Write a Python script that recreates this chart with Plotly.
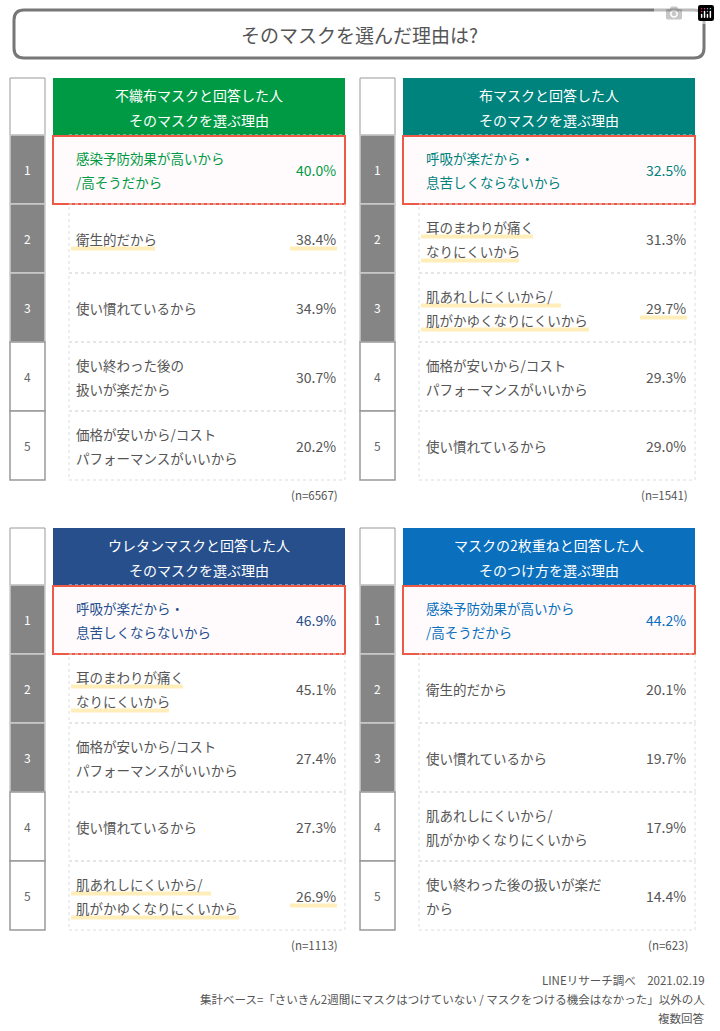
import plotly.graph_objects as go

# ---- data ----
panel_titles = ["不織布マスクと回答した人<br>そのマスクを選ぶ理由", "布マスクと回答した人<br>そのマスクを選ぶ理由",
                "ウレタンマスクと回答した人<br>そのマスクを選ぶ理由", "マスクの2枚重ねと回答した人<br>そのつけ方を選ぶ理由"]
panel_colors = ["#009a44", "#00827d", "#264f8c", "#0a6fbd"]
panel_n = ["(n=6567)", "(n=1541)", "(n=1113)", "(n=623)"]
reasons = [
    ["感染予防効果が高いから<br>/高そうだから", "衛生的だから", "使い慣れているから", "使い終わった後の<br>扱いが楽だから", "価格が安いから/コスト<br>パフォーマンスがいいから"],
    ["呼吸が楽だから・<br>息苦しくならないから", "耳のまわりが痛く<br>なりにくいから", "肌あれしにくいから/<br>肌がかゆくなりにくいから", "価格が安いから/コスト<br>パフォーマンスがいいから", "使い慣れているから"],
    ["呼吸が楽だから・<br>息苦しくならないから", "耳のまわりが痛く<br>なりにくいから", "価格が安いから/コスト<br>パフォーマンスがいいから", "使い慣れているから", "肌あれしにくいから/<br>肌がかゆくなりにくいから"],
    ["感染予防効果が高いから<br>/高そうだから", "衛生的だから", "使い慣れているから", "肌あれしにくいから/<br>肌がかゆくなりにくいから", "使い終わった後の扱いが楽だ<br>から"],
]
percents = [
    [40.0, 38.4, 34.9, 30.7, 20.2],
    [32.5, 31.3, 29.7, 29.3, 29.0],
    [46.9, 45.1, 27.4, 27.3, 26.9],
    [44.2, 20.1, 19.7, 17.9, 14.4],
]
# yellow marker underline: (label, percent) per row
underline = [
    [(0, 0), (1, 1), (0, 0), (0, 0), (0, 0)],
    [(0, 0), (1, 0), (1, 1), (0, 0), (0, 0)],
    [(0, 0), (1, 0), (0, 0), (0, 0), (1, 1)],
    [(0, 0), (0, 0), (0, 0), (0, 0), (0, 0)],
]
title = "そのマスクを選んだ理由は?"
notes = ["LINEリサーチ調べ　2021.02.19",
         "集計ベース=「さいきん2週間にマスクはつけていない / マスクをつける機会はなかった」以外の人",
         "複数回答"]

FONT = "Noto Sans CJK JP"
W, H = 720, 1031
shapes, ann = [], []


def txt(x, y, s, size=13, color="#555", xa="center"):
    ann.append(dict(x=x, y=y, text=s, xref="x", yref="y", showarrow=False, xanchor=xa, yanchor="middle",
                    font=dict(family=FONT, size=size, color=color)))


def multiline(x, yc, s, gap, **kw):
    lines = s.split("<br>")
    for i, ln in enumerate(lines):
        txt(x, yc + (i - (len(lines) - 1) / 2) * gap, ln, **kw)
    return lines


def rect(x0, y0, x1, y1, fill="rgba(0,0,0,0)", line="rgba(0,0,0,0)", lw=1, dash="solid"):
    shapes.append(dict(type="rect", x0=x0, y0=y0, x1=x1, y1=y1, xref="x", yref="y", fillcolor=fill,
                       line=dict(color=line, width=lw, dash=dash)))


def marker(x0, x1, y):
    shapes.append(dict(type="line", xref="x", yref="y", x0=x0, x1=x1, y0=y, y1=y,
                       line=dict(color="rgba(255,225,140,0.6)", width=4)))


# title box
shapes.append(dict(type="path", xref="x", yref="y",
                   path="M 24,10 L 694,10 Q 704,10 704,20 L 704,48 Q 704,58 694,58 L 24,58 Q 14,58 14,48 L 14,20 Q 14,10 24,10 Z",
                   line=dict(color="#777", width=3), fillcolor="white"))
txt(359, 34, title, size=19, color="#555")

row_h = 69
for p in range(4):
    ox = 10 if p % 2 == 0 else 360
    oy = 78 if p < 2 else 528
    cx0, cx1 = ox + 43, ox + 335
    rect(ox, oy, ox + 35, oy + 57, fill="white", line="#999")
    rect(cx0, oy, cx1, oy + 57, fill=panel_colors[p])
    multiline((cx0 + cx1) / 2, oy + 29, panel_titles[p], 25, size=14, color="white")
    for r in range(5):
        y0 = oy + 57 + r * row_h
        y1 = y0 + row_h
        yc = (y0 + y1) / 2
        top3 = r < 3
        rect(ox, y0, ox + 35, y1, fill="#858585" if top3 else "white", line="#ccc" if top3 else "#999", lw=1.5)
        txt(ox + 17.5, yc, str(r + 1), size=12, color="white" if top3 else "#666")
        col = panel_colors[p] if r == 0 else "#555"
        rect(cx0 + 16, y0, cx1, y1, line="#ddd", lw=1, dash="dot")
        if r == 0:
            rect(cx0, y0 + 1, cx1, y1, fill="#fffbfc", line="#ee5a48", lw=2)
        lines = reasons[p][r].split("<br>")
        ul_l, ul_p = underline[p][r]
        if ul_l:
            for i, ln in enumerate(lines):
                ly = yc + (i - (len(lines) - 1) / 2) * 24 + 10
                marker(cx0 + 18, cx0 + 18 + 14 * len(ln), ly)
        if ul_p:
            marker(cx1 - 55, cx1 - 8, yc + 10)
        multiline(cx0 + 21, yc, reasons[p][r], 24, size=13.5, color=col, xa="left")
        txt(cx1 - 7, yc, f"{percents[p][r]:.1f}%", size=14, color=col, xa="right")
    txt(cx1 - 5, oy + 57 + 5 * row_h + 15, panel_n[p], size=11.5, color="#555", xa="right")

for i, s in enumerate(notes):
    txt(707, 980 + i * 19, s, size=11.5, color="#555", xa="right")

fig = go.Figure()
fig.update_layout(width=W, height=H, margin=dict(l=0, r=0, t=0, b=0), plot_bgcolor="white", paper_bgcolor="white",
                  xaxis=dict(range=[0, W], visible=False, fixedrange=True),
                  yaxis=dict(range=[H, 0], visible=False, fixedrange=True),
                  shapes=shapes, annotations=ann, showlegend=False)
fig.write_html("out.html", post_script="document.body.style.margin='0';document.body.style.overflow='hidden';")
